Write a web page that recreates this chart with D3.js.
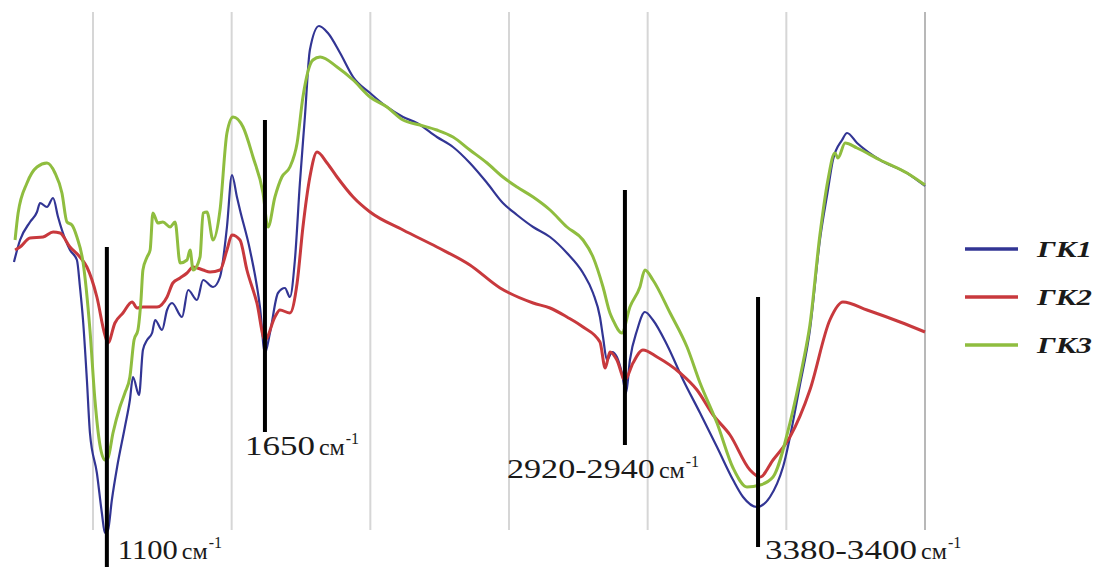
<!DOCTYPE html>
<html><head><meta charset="utf-8">
<script src="https://cdn.jsdelivr.net/npm/d3@7"></script>
<style>body{margin:0;background:#fff}</style>
</head><body>
<svg id="chart" width="1097" height="567"></svg>
<script>
// series: [wavenumber cm-1, signal (arb. units)]
var seriesNames = ["ГК1", "ГК2", "ГК3"]
var gk1 = [[715,59.6],[737,64],[773,67.6],[798,69.6],[809,71.4],[834,70.6],[856,72.4],[874,68.6],[888,66],[917,62],[942,60],[953,54.6],[964,48],[978,36],[989,25.4],[1014,17.4],[1032,9.4],[1043,5.4],[1054,6],[1068,12],[1087,18.6],[1115,26.6],[1133,32],[1144,36.6],[1166,33],[1180,42],[1195,44],[1213,45.4],[1224,48],[1249,46],[1267,50],[1285,51.4],[1321,48.6],[1343,54],[1375,52],[1397,56],[1433,54.6],[1458,56.6],[1483,66.6],[1501,77],[1519,72.6],[1530,70],[1566,62],[1602,50.6],[1620,41.4],[1638,45.4],[1667,53.4],[1692,54.4],[1710,52.6],[1728,60],[1746,75.4],[1764,88.6],[1782,102],[1815,106.8],[1847,105.4],[1891,101.4],[1938,96.6],[1999,93.4],[2060,90.6],[2118,88.6],[2168,87.4],[2240,84.6],[2298,82.6],[2359,79.4],[2421,75.4],[2478,71.4],[2529,69],[2587,66.6],[2648,64.6],[2709,61.4],[2767,57.4],[2803,53.4],[2828,48.6],[2839,44.6],[2853,40],[2872,41.6],[2889,40.6],[2907,37.4],[2922,33.4],[2936,40],[2962,46],[2990,49.6],[3019,48],[3070,43],[3128,36],[3189,29.4],[3250,22.6],[3308,16],[3344,12.6],[3394,10.6],[3441,12.6],[3488,18.6],[3549,35],[3585,46],[3621,64],[3650,74],[3668,80],[3701,84],[3719,85.4],[3755,83.4],[3838,80],[3935,77.4],[4000,74.8]]
var gk2 = [[719,62],[737,62.6],[773,64.4],[820,64.6],[856,65.6],[881,65.4],[917,62.6],[953,60.6],[978,58.6],[1014,52.6],[1043,45],[1054,43.4],[1079,47.4],[1108,49.4],[1141,51.6],[1159,50.4],[1180,50.6],[1231,50.6],[1267,52.6],[1288,55.4],[1314,56.4],[1339,57.4],[1361,58.6],[1397,58],[1422,57.6],[1458,58],[1483,62],[1501,65],[1530,64],[1555,58],[1591,51.4],[1620,44],[1656,48.6],[1674,50],[1710,49.4],[1736,55.4],[1757,66.6],[1782,76.6],[1808,81.6],[1844,79.4],[1880,76.6],[1938,72.6],[1999,69.6],[2118,66],[2240,62.6],[2359,59],[2468,54.4],[2587,51.4],[2648,50.4],[2709,48.6],[2767,46.6],[2828,43.6],[2847,38.4],[2864,41.6],[2889,40],[2918,36],[2947,39.4],[2983,42],[3034,40.6],[3117,37.4],[3178,34],[3236,29],[3297,25],[3369,18],[3405,16.6],[3452,20],[3513,24.6],[3585,34],[3657,48],[3704,51.6],[3791,50],[3910,47.6],[4000,45.6]]
var gk3 = [[719,64],[730,69.4],[762,75.4],[798,78.6],[834,79.4],[863,77.4],[888,73.4],[906,67.6],[924,67],[942,64.6],[964,59.6],[989,46],[1007,32],[1025,23],[1043,20],[1054,20.4],[1072,25.4],[1097,30.6],[1115,33.4],[1133,36.6],[1148,44],[1162,46],[1173,52],[1180,58],[1195,60.6],[1206,62],[1216,69.4],[1234,67.4],[1252,67.6],[1278,66.6],[1296,67.6],[1314,59.4],[1339,60],[1350,62],[1361,58],[1386,60.6],[1397,69.4],[1411,69.6],[1433,64],[1458,70],[1483,85.4],[1505,88.6],[1541,86.6],[1577,80.6],[1613,73.4],[1631,66.6],[1656,72.6],[1681,76.6],[1710,78.6],[1736,83.4],[1757,92.6],[1793,100],[1819,100.6],[1880,98.6],[1938,96],[1999,92.6],[2060,90.6],[2118,88],[2179,87],[2240,86],[2298,84.6],[2359,82],[2421,79.4],[2478,76.6],[2529,74.6],[2587,72.6],[2648,70],[2709,66.6],[2767,64],[2803,60.6],[2839,54.6],[2864,49.4],[2875,48],[2907,45.4],[2936,50.6],[2972,54.6],[2990,58],[3019,56],[3081,49.4],[3142,42.6],[3189,35.4],[3250,27.4],[3308,18.4],[3358,14.6],[3405,15],[3452,16.6],[3513,27.4],[3560,39.4],[3585,47],[3621,65],[3650,76],[3675,81.4],[3686,80.4],[3712,83.4],[3755,82.4],[3838,80],[3935,77.4],[4000,75]]

var gridWaves = [1000, 1500, 2000, 2500, 3000, 3500, 4000]
var markerWaves = [1050, 1620, 2918, 3398]
var markerTop = [62.6, 88, 74, 52.6]
var markerBottom = [-1.4, 25.6, 23, 2.6]
var markerNums = ["1100", "1650", "2920-2940", "3380-3400"]
var unitText = "см"
var unitPow = "-1"

// styling
var colors = ["#323594", "#c8393d", "#8fbd3f"]
var widths = [2.2, 3, 3]
var labelPos = [{dx: 11, y: 559, w: 60}, {dx: -20, y: 455, w: 70}, {dx: -118, y: 478, w: 148}, {dx: 7, y: 559, w: 152}]

var svg = d3.select("#chart")
var x = d3.scaleLinear().domain([1000, 4000]).range([93, 925])
var y = d3.scaleLinear().domain([0, 110]).range([560, 10])

// gridlines
svg.selectAll(".grid").data(gridWaves).enter().append("line")
  .attr("x1", d => x(d)).attr("x2", d => x(d))
  .attr("y1", 12).attr("y2", 530)
  .attr("stroke", (d, i) => i == gridWaves.length - 1 ? "#b8b8b8" : "#d6d6d6")
  .attr("stroke-width", 2)

var line = d3.line()
  .x(d => x(d[0]))
  .y(d => y(d[1]))
  .curve(d3.curveMonotoneX)

var all = [gk1, gk2, gk3]
svg.selectAll(".series").data(all).enter().append("path")
  .attr("d", line)
  .attr("fill", "none")
  .attr("stroke", (d, i) => colors[i])
  .attr("stroke-width", (d, i) => widths[i])
  .attr("stroke-linejoin", "round")

// marker bars
svg.selectAll(".mark").data(markerWaves).enter().append("line")
  .attr("x1", d => x(d)).attr("x2", d => x(d))
  .attr("y1", (d, i) => y(markerTop[i]))
  .attr("y2", (d, i) => y(markerBottom[i]))
  .attr("stroke", "#000")
  .attr("stroke-width", 4)

// labels
markerNums.forEach(function(t, i) {
  var p = labelPos[i]
  var txt = svg.append("text")
    .attr("x", x(markerWaves[i]) + p.dx)
    .attr("y", p.y)
    .attr("font-family", "'Liberation Serif', 'DejaVu Serif', serif")
    .attr("fill", "#1a1a1a")
  txt.append("tspan").attr("font-size", 27)
    .attr("textLength", p.w).attr("lengthAdjust", "spacingAndGlyphs").text(t)
  txt.append("tspan").attr("font-size", 24).attr("dx", 4).text(unitText)
  txt.append("tspan").attr("font-size", 16).attr("dy", -11).attr("dx", 1).text(unitPow)
})

// legend
var lg = svg.append("g")
seriesNames.forEach(function(n, i) {
  var cy = 249 + i * 48
  lg.append("line").attr("x1", 965).attr("x2", 1018).attr("y1", cy).attr("y2", cy)
    .attr("stroke", colors[i]).attr("stroke-width", 3.5)
  lg.append("text").attr("x", 1037).attr("y", cy + 8)
    .attr("font-family", "'Liberation Serif', serif")
    .attr("font-weight", "bold").attr("font-style", "italic")
    .attr("font-size", 23).attr("textLength", 55).attr("lengthAdjust", "spacingAndGlyphs")
    .attr("fill", "#1a1a1a").text(n)
})
</script>
</body></html>
